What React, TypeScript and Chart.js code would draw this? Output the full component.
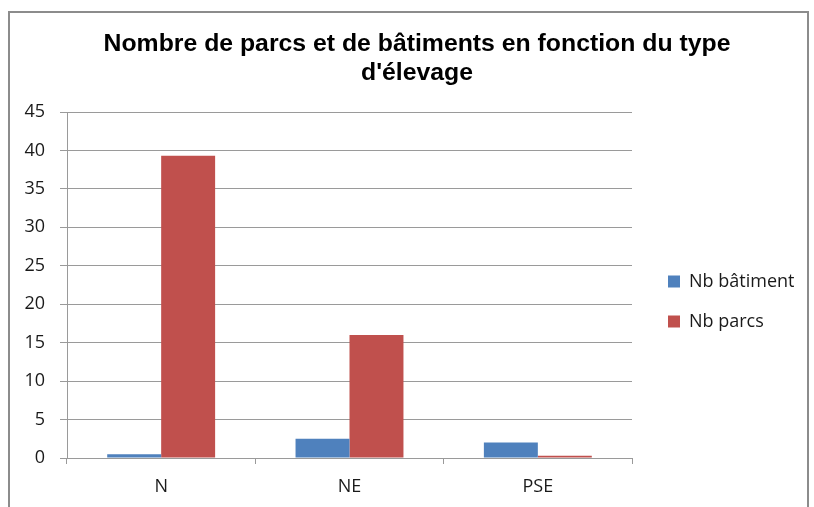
import React, { useEffect, useRef } from "react";
import { Chart, registerables } from "chart.js";

Chart.register(...registerables);

const categories = ["N", "NE", "PSE"];
const nbBatiment = [0.5, 2.5, 2];
const nbParcs = [39.3, 16, 0.3];
const seriesLabels = ["Nb bâtiment", "Nb parcs"];
const titleLines = ["Nombre de parcs et de bâtiments en fonction du type", "d'élevage"];
const yMin = 0;
const yMax = 45;
const yStep = 5;

const LEGEND_WIDTH = 168;

const legendWidthPlugin = {
  id: "legendWidth",
  beforeLayout(chart: any) {
    const lg: any = chart.legend;
    if (lg && !lg.__fixedWidth) {
      const orig = lg.fit.bind(lg);
      lg.fit = () => {
        orig();
        lg.width = LEGEND_WIDTH;
      };
      lg.__fixedWidth = true;
    }
  },
};

export default function App() {
  const ref = useRef<HTMLCanvasElement | null>(null);

  useEffect(() => {
    if (!ref.current) return;
    const grid = "#9a9a9a";
    const chart = new Chart(ref.current, {
      type: "bar",
      data: {
        labels: categories,
        datasets: [
          {
            label: seriesLabels[0],
            data: nbBatiment,
            backgroundColor: "#4F81BD",
            categoryPercentage: 0.573,
            barPercentage: 1,
          },
          {
            label: seriesLabels[1],
            data: nbParcs,
            backgroundColor: "#C0504D",
            categoryPercentage: 0.573,
            barPercentage: 1,
          },
        ],
      },
      plugins: [legendWidthPlugin],
      options: {
        animation: false,
        responsive: false,
        maintainAspectRatio: false,
        layout: { padding: { left: 20, right: 0, top: 0, bottom: 0 } },
        plugins: {
          title: {
            display: true,
            text: titleLines,
            color: "#000",
            font: { family: "'Liberation Sans', Arial, sans-serif", size: 24.8, weight: "bold", lineHeight: "29px" },
            padding: { top: 29.5, bottom: 24.5 },
          },
          legend: {
            position: "right",
            align: "center",
            fullSize: false,
            title: { display: true, text: "", font: { size: 10, lineHeight: 1.2 }, padding: { top: 21, bottom: 0 } },
            labels: {
              boxWidth: 12,
              boxHeight: 12,
              padding: 22,
              color: "#1a1a1a",
              font: { family: "'Open Sans', sans-serif", size: 18 },
            },
          },
          tooltip: { enabled: false },
        },
        scales: {
          x: {
            offset: true,
            grid: { display: true, drawOnChartArea: false, drawTicks: true, tickLength: 6, color: grid, offset: true },
            border: { display: true, color: grid, width: 1 },
            ticks: { color: "#1a1a1a", padding: 12, font: { family: "'Open Sans', sans-serif", size: 18 } },
            afterFit: (s: any) => { s.height = 49; },
          },
          y: {
            min: yMin,
            max: yMax,
            ticks: { stepSize: yStep, color: "#1a1a1a", padding: 15, font: { family: "'Open Sans', sans-serif", size: 18 } },
            grid: { color: grid, tickLength: 7, drawTicks: true },
            border: { display: true, color: grid, width: 1 },
            afterFit: (s: any) => { s.width = 47; },
          },
          y2: {
            position: "right",
            display: true,
            grid: { display: false, drawTicks: false },
            border: { display: false },
            ticks: { display: false },
            afterFit: (s: any) => { s.width = 14; },
          },
        },
      },
    });
    return () => chart.destroy();
  }, []);

  return (
    <div style={{ position: "fixed", left: 0, top: 0, width: 814, height: 507, overflow: "hidden", background: "#fff" }}>
      <div
        style={{
          position: "absolute",
          left: 8,
          top: 11,
          width: 801,
          height: 560,
          border: "2px solid #8c8c8c",
          boxSizing: "border-box",
        }}
      />
      <canvas ref={ref} width={814} height={507} style={{ position: "absolute", left: 0, top: 0, width: 814, height: 507 }} />
    </div>
  );
}
